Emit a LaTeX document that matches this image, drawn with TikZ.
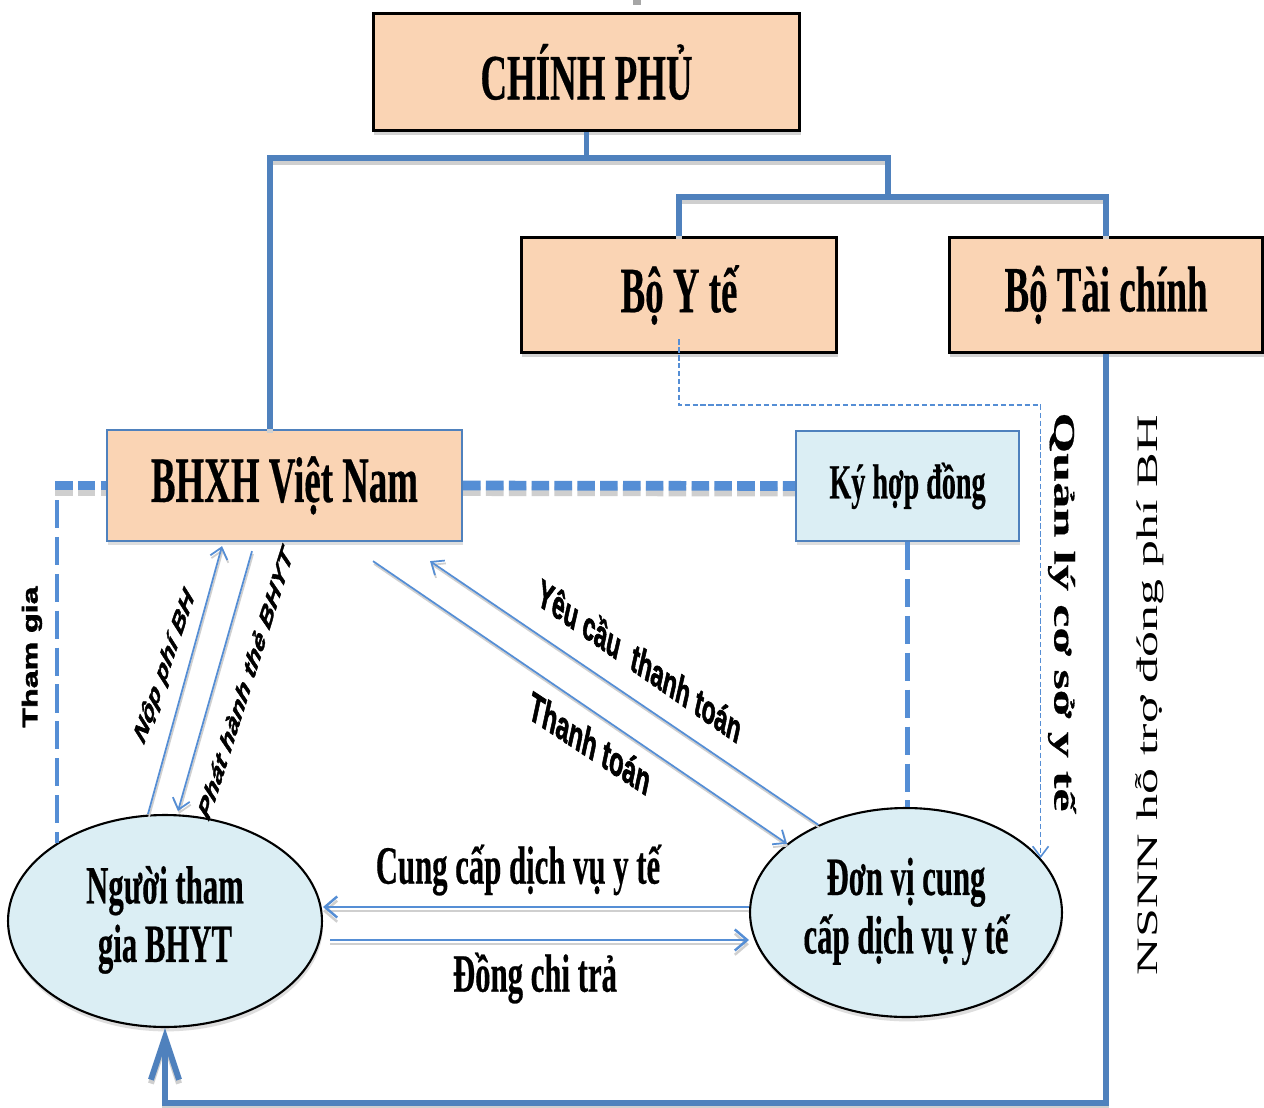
\documentclass[tikz,border=0pt]{standalone}
\usepackage{fontspec}
\usepackage{graphicx}
\setmainfont[BoldFeatures={FakeBold=0.5}]{Liberation Serif}
\newfontfamily\sansf[BoldFeatures={FakeBold=2}, BoldItalicFeatures={FakeBold=2}]{Liberation Sans}
\usetikzlibrary{arrows.meta,shadows,shapes.geometric}
\definecolor{peach}{HTML}{FAD4B4}
\definecolor{lblue}{HTML}{DBEEF4}
\definecolor{lineblue}{HTML}{4F81BD}
\definecolor{dblue}{HTML}{558ED5}
\definecolor{shgray}{HTML}{CFCFCF}
\newcommand{\vst}[1]{\scalebox{1}[1.75]{#1}}
\newcommand{\hst}[1]{\scalebox{1.75}[1]{#1}}
\newcommand{\fs}[1]{\fontsize{#1}{#1}\selectfont}
\begin{document}
\begin{tikzpicture}[x=0.02cm, y=-0.02cm,
  hbox/.style={draw=black, line width=1.7pt, fill=peach, inner sep=0pt,
    font=\bfseries\fs{21},
    drop shadow={shadow xshift=0.6pt, shadow yshift=-2.5pt, fill=black!35, opacity=0.5}},
  bbox/.style={draw=lineblue, line width=1.3pt, inner sep=0pt,
    drop shadow={shadow xshift=0.6pt, shadow yshift=-2.5pt, fill=black!25, opacity=0.5}},
  ell/.style={ellipse, draw=black, line width=1.2pt, fill=lblue, inner sep=0pt,
    font=\bfseries\fontsize{17.5}{19}\selectfont,
    drop shadow={shadow xshift=0.6pt, shadow yshift=-2.5pt, fill=black!25, opacity=0.5}},
  conn/.style={draw=lineblue, line width=3.4pt,
    preaction={draw=shgray, line width=3.4pt, transform canvas={yshift=-2.2pt}}},
  hdash/.style={draw=dblue, line width=5.5pt, dash pattern=on 10pt off 3pt,
    preaction={draw=shgray, line width=5.5pt, dash pattern=on 10pt off 3pt, transform canvas={yshift=-3.2pt}}},
  vdash/.style={draw=dblue, line width=2.8pt, dash pattern=on 16pt off 5pt},
  tdash/.style={draw=dblue, line width=0.9pt, dash pattern=on 3pt off 1.5pt,
    -{Straight Barb[length=6pt,width=9pt]}},
  tarr/.style={draw=dblue, line width=1pt, -{Straight Barb[length=6pt,width=10pt]},
    preaction={draw=shgray, line width=1pt, transform canvas={xshift=0.6pt, yshift=-1.6pt}}},
  harr/.style={draw=dblue, line width=1.4pt, -{Straight Barb[length=7pt,width=12pt]},
    preaction={draw=shgray, line width=1.4pt, transform canvas={yshift=-2.4pt}}},
  lab/.style={inner sep=0pt}
]
\fill[white] (0,0) rectangle (1264,1108);
\useasboundingbox (0,0) rectangle (1264,1108);
\fill[gray!70] (633,0) rectangle (641,5);

% boxes
\node[hbox, minimum width=8.54cm, minimum height=2.36cm] (cp) at (586.5,72) {\vst{CHÍNH PHỦ}};
\node[hbox, minimum width=6.32cm, minimum height=2.32cm] (byt) at (679,295) {\vst{Bộ Y tế}};
\node[hbox, minimum width=6.28cm, minimum height=2.32cm] (btc) at (1106,295) {\vst{Bộ Tài chính}};
\node[bbox, fill=peach, minimum width=7.1cm, minimum height=2.22cm, font=\bfseries\fs{21}] (bhxh) at (284.5,485.5) {\vst{BHXH Việt Nam}};
\node[bbox, fill=lblue, minimum width=4.46cm, minimum height=2.2cm, font=\bfseries\fs{16}] (ky) at (907.5,486) {\vst{Ký hợp đồng}};
\node[ell, minimum width=6.28cm, minimum height=4.24cm] (ngu) at (165,921)
  {\vst{\begin{tabular}{@{}c@{}}Người tham\\gia BHYT\end{tabular}}};
\node[ell, minimum width=6.24cm, minimum height=4.18cm] (don) at (906,912.5)
  {\vst{\begin{tabular}{@{}c@{}}Đơn vị cung\\cấp dịch vụ y tế\end{tabular}}};

% government tree
\coordinate (jc) at (586.5,158);
\coordinate (jl) at (270,158);
\coordinate (jr) at (888,158);
\coordinate (jb) at (888,197);
\draw[conn] (cp.south) -- (jc);
\draw[conn] (jl |- bhxh.north) -- (jl) -- (jr) -- (jb);
\draw[conn] (byt.north) -- (byt.north |- jb) -- (btc.north |- jb) -- (btc.north);

% NSNN support arrow
\coordinate (bot) at (0,1103);
\draw[conn, -{Straight Barb[length=24pt,width=16pt]}] (btc.south) -- (btc.south |- bot) -- (ngu.south |- bot) -- (ngu.south);

% dashed relations
\coordinate (tgh) at (55,485.5);
\coordinate (tgv) at (57,500);
\draw[hdash] (tgh) -- (bhxh.west);
\draw[hdash] (bhxh.east) -- (ky.west);
\draw[vdash] (tgv) -- (tgv |- ngu.144);
\draw[vdash] (ky.south) -- (ky.south |- don.north);

% Bo Y te management
\coordinate (qh) at (0,405);
\draw[tdash] ([yshift=0.3cm]byt.south) -- (byt.south |- qh) -- (don.22 |- qh) -- (don.22);

% thin arrows
\draw[tarr] ([shift={(-17,0)}]ngu.north) -- ([shift={(-62.5,4)}]bhxh.south);
\draw[tarr] ([shift={(-32.5,9)}]bhxh.south) -- ([shift={(13,-3)}]ngu.north);
\draw[tarr] ([shift={(88.5,19)}]bhxh.south) -- (don.150);
\draw[tarr] (don.135) -- ([shift={(145.5,19)}]bhxh.south);
\coordinate (cy) at (0,907);
\coordinate (dcs) at (330,940);
\draw[harr] (don.west |- cy) -- (ngu.east |- cy);
\draw[harr] (dcs) -- (don.west |- dcs);

% labels
\node[lab, font=\bfseries\fs{17.5}] (lcc) at (518,870) {\vst{Cung cấp dịch vụ y tế}};
\node[lab, font=\bfseries\fs{17.5}] (ldc) at (535,978) {\vst{Đồng chi trả}};
\node[lab, rotate=-90, font=\bfseries\fs{17}] (lql) at (1062,612) {\hst{Quản lý cơ sở y tế}};
\node[lab, rotate=90, font=\fs{16.9}] (lns) at (1150,695) {\hst{NSNN hỗ trợ đóng phí BH}};
\node[lab, rotate=90, font=\sansf\bfseries\fs{12.2}] (ltg) at (32,657) {\scalebox{1.5}[1]{Tham gia}};
\begin{scope}[shift={(640,660)}, yscale=1.75]
  \node[lab, rotate=-21.7, transform shape, font=\sansf\bfseries\fs{13}] (lyc) at (0,0) {Yêu cầu\ \ thanh toán};
\end{scope}
\begin{scope}[shift={(590,743)}, yscale=1.75]
  \node[lab, rotate=-20.6, transform shape, font=\sansf\bfseries\fs{13.5}] (ltt) at (0,0) {Thanh toán};
\end{scope}
\begin{scope}[shift={(165,667)}, yscale=1.75]
  \node[lab, rotate=59, transform shape, font=\sansf\bfseries\itshape\fs{10.3}] (lnp) at (0,0) {Nộp phí BH};
\end{scope}
\begin{scope}[shift={(245,683)}, yscale=1.75]
  \node[lab, rotate=61, transform shape, font=\sansf\bfseries\itshape\fs{10.3}] (lph) at (0,0) {Phát hành thẻ BHYT};
\end{scope}
\end{tikzpicture}
\end{document}
